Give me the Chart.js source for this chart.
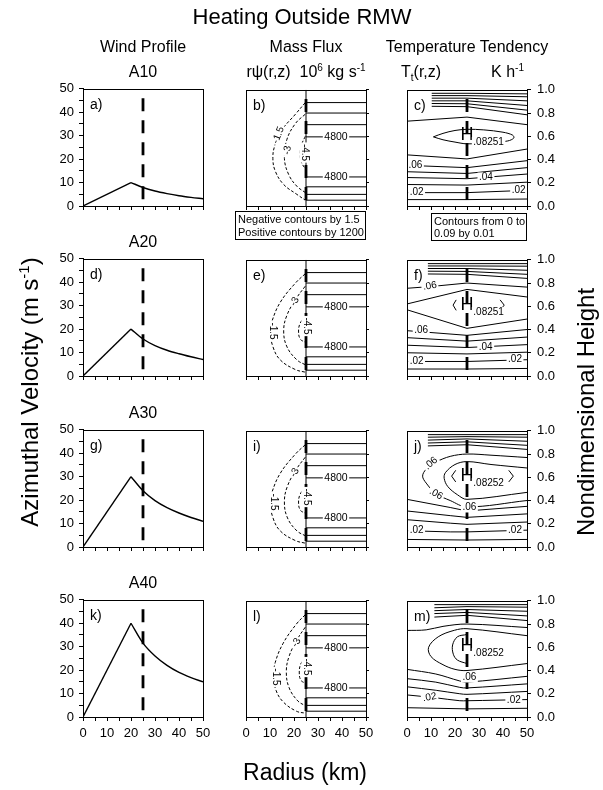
<!DOCTYPE html>
<html><head><meta charset="utf-8">
<script src="https://cdn.jsdelivr.net/npm/chart.js@4.4.0/dist/chart.umd.min.js"></script>
<style>
html,body{margin:0;padding:0;background:#fff;}
body{width:603px;height:790px;position:relative;overflow:hidden;}
canvas{position:absolute;}
svg{position:absolute;left:0;top:0;}
</style></head><body>
<script>
// ---------------- DATA ----------------
const caseNames = ['A10','A20','A30','A40'];
const panelLetters = [['a)','b)','c)'],['d)','e)','f)'],['g)','i)','j)'],['k)','l)','m)']];
const radiusTicks = [0,5,10,15,20,25,30,35,40,45,50];
const radiusLabels = [0,10,20,30,40,50];
const velocityTicks = [0,5,10,15,20,25,30,35,40,45,50];
const velocityLabels = [0,10,20,30,40,50];
const heightTicks = [0,0.2,0.4,0.6,0.8,1.0];
const heightLabels = ['0.0','0.2','0.4','0.6','0.8','1.0'];

// wind profiles (m/s) at radii (km)
const windRadius = [0,20,25,30,35,40,45,50];
const windA10 = [0,10,7.9,6.4,5.3,4.4,3.7,3.1];
const windA20 = [0,20,15.8,13.0,11.0,9.5,8.2,7.0];
const windA30 = [0,30,24.0,19.8,16.8,14.5,12.6,11.0];
const windA40 = [0,40,31.5,26.0,22.0,19.0,16.8,15.0];

// heating location
const heatingRadius = 25;
const heatingTopVelocity = 46;
const heatingTopHeight = 0.92;

// mass flux: positive contour heights (r = 25..50), labels "4800"
const psiPositiveHeights = [0.05,0.10,0.165,0.25,0.595,0.70,0.80,0.89];
const psiPositiveLabelHeights = [0.25,0.595];
const psiPositiveLabel = '4800';
// negative contours [r, z]
const psiNegA10 = [
  [[24.7,0.89],[20.6,0.79],[15,0.655],[12,0.52],[11.2,0.41],[12.2,0.30],[15.7,0.185],[21.2,0.10],[24.7,0.05]],
  [[24.7,0.79],[20.6,0.71],[17,0.57],[16,0.41],[17.8,0.27],[21.2,0.17],[24.7,0.116]],
  [[24.7,0.60],[23,0.52],[22.6,0.45],[23,0.38],[24.7,0.32]]
];
const psiNegA20 = [
  [[24.7,0.88],[20.6,0.80],[14.3,0.635],[10.8,0.47],[10.1,0.387],[11.25,0.25],[14.3,0.138],[20.6,0.055],[24.7,0.033]],
  [[24.7,0.773],[21.25,0.677],[17.1,0.525],[15.7,0.387],[17.1,0.25],[21.25,0.138],[24.7,0.097]],
  [[24.7,0.51],[22.6,0.456],[21.9,0.387],[22.6,0.318],[24.7,0.29]]
];
const psiNegA30 = [
  [[24.7,0.88],[20.6,0.80],[14.3,0.635],[10.8,0.47],[10.1,0.387],[11.25,0.25],[14.3,0.138],[20.6,0.055],[24.7,0.033]],
  [[24.7,0.773],[21.25,0.677],[17.3,0.525],[16,0.387],[17.3,0.25],[21.25,0.138],[24.7,0.097]],
  [[24.7,0.51],[22.6,0.456],[21.9,0.387],[22.6,0.318],[24.7,0.29]]
];
const psiNegA40 = [
  [[24.7,0.88],[21,0.80],[15.5,0.635],[12.2,0.47],[11.5,0.35],[12.5,0.23],[15.5,0.13],[21,0.05],[24.7,0.033]],
  [[24.7,0.773],[21.6,0.677],[18,0.525],[16.8,0.387],[18,0.25],[21.6,0.138],[24.7,0.097]],
  [[24.7,0.51],[22.8,0.456],[22.2,0.387],[22.8,0.318],[24.7,0.29]]
];
const psiNegLabelsA10 = [[13.5,0.61,'-1.5',-68],[17.3,0.48,'-3',-80],[24.4,0.46,'-4.5',90]];
const psiNegLabelsA20 = [[11.2,0.387,'-1.5',90],[20.3,0.64,'-3',-60],[25.2,0.43,'-4.5',90]];
const psiNegLabelsA30 = [[11.6,0.387,'-1.5',90],[20.3,0.64,'-3',-60],[25.2,0.43,'-4.5',90]];
const psiNegLabelsA40 = [[12.5,0.345,'-1.5',90],[21,0.64,'-3',-60],[25.2,0.43,'-4.5',90]];

// temperature tendency contours [r, z]
const tempA10 = [
  [[10.3,0.97],[25,0.97],[50,0.965]],
  [[10.3,0.95],[25,0.95],[50,0.94]],
  [[10.3,0.928],[25,0.928],[50,0.905]],
  [[10.3,0.905],[25,0.905],[50,0.865]],
  [[10.3,0.882],[25,0.88],[50,0.825]],
  [[10.3,0.858],[25,0.855],[50,0.785]],
  [[0,0.73],[25,0.765],[50,0.70]],
  [[11,0.595],[15,0.625],[20,0.65],[25,0.66],[32,0.655],[40,0.635],[44,0.61],[44.5,0.585],[42,0.56],[35,0.545],[25,0.535],[20,0.55],[15,0.57],[11,0.595]],
  [[0,0.44],[25,0.405],[50,0.49]],
  [[0,0.35],[25,0.33],[50,0.39]],
  [[0,0.295],[25,0.28],[50,0.33]],
  [[0,0.245],[25,0.235],[50,0.275]],
  [[0,0.185],[25,0.18],[50,0.205]],
  [[0,0.115],[25,0.115],[50,0.135]],
  [[0,0.055],[25,0.055],[50,0.06]]
];
const tempA20 = [
  [[8.7,0.967],[25,0.967],[50,0.967]],
  [[8.7,0.947],[25,0.947],[50,0.945]],
  [[8.7,0.925],[25,0.925],[50,0.91]],
  [[8.7,0.902],[25,0.90],[50,0.875]],
  [[8.7,0.878],[25,0.875],[50,0.84]],
  [[0,0.755],[10,0.77],[25,0.80],[50,0.765]],
  [[0,0.62],[25,0.745],[50,0.68]],
  [[0,0.57],[25,0.41],[50,0.49]],
  [[20.5,0.655],[19.2,0.61],[20.5,0.565]],
  [[38.8,0.655],[40.5,0.61],[38.8,0.565]],
  [[0,0.39],[25,0.35],[50,0.40]],
  [[0,0.33],[25,0.30],[50,0.335]],
  [[0,0.265],[25,0.245],[50,0.27]],
  [[0,0.20],[25,0.19],[50,0.205]],
  [[0,0.125],[25,0.125],[50,0.14]],
  [[0,0.06],[25,0.06],[50,0.065]]
];
const tempA30 = [
  [[8.7,0.967],[25,0.967],[50,0.967]],
  [[8.7,0.945],[25,0.95],[50,0.945]],
  [[8.7,0.92],[25,0.93],[50,0.91]],
  [[8.7,0.895],[25,0.905],[50,0.875]],
  [[8.7,0.87],[25,0.88],[50,0.84]],
  [[50,0.77],[35,0.79],[25,0.80],[18,0.78],[12,0.73],[8,0.67],[6.5,0.61],[8,0.55],[12,0.46],[18,0.40],[25,0.345],[50,0.40]],
  [[50,0.68],[35,0.71],[25,0.735],[20,0.71],[16,0.64],[15.5,0.59],[17,0.52],[21,0.45],[25,0.41],[50,0.47]],
  [[20.3,0.66],[18.6,0.61],[20.3,0.56]],
  [[42.4,0.66],[44.3,0.61],[42.4,0.56]],
  [[0,0.41],[18,0.34],[25,0.31],[50,0.35]],
  [[0,0.31],[18,0.27],[25,0.255],[50,0.285]],
  [[0,0.235],[18,0.205],[25,0.195],[50,0.215]],
  [[0,0.14],[18,0.13],[25,0.13],[50,0.145]],
  [[0,0.065],[25,0.06],[50,0.065]]
];
const tempA40 = [
  [[11.4,0.967],[25,0.967],[50,0.967]],
  [[11.4,0.94],[25,0.95],[50,0.945]],
  [[11.4,0.915],[25,0.925],[50,0.91]],
  [[11.4,0.89],[25,0.90],[50,0.87]],
  [[11.4,0.86],[25,0.875],[50,0.83]],
  [[0,0.745],[8,0.75],[15,0.78],[25,0.80],[50,0.77]],
  [[50,0.70],[25,0.76],[19.7,0.746],[13,0.69],[9,0.60],[10,0.52],[15,0.45],[20,0.41],[25,0.40],[50,0.46]],
  [[25,0.71],[21,0.69],[19,0.62],[19.3,0.54],[21,0.49],[25,0.46]],
  [[0,0.41],[12,0.37],[22,0.31],[25,0.30],[50,0.35]],
  [[0,0.33],[12,0.30],[22,0.255],[25,0.25],[50,0.285]],
  [[0,0.26],[12,0.23],[22,0.20],[25,0.195],[50,0.22]],
  [[0,0.19],[12,0.165],[22,0.14],[25,0.14],[50,0.15]],
  [[0,0.08],[25,0.07],[50,0.075]]
];
const tempLabelsA10 = [[3.5,0.35,'.06',0],[32.9,0.245,'.04',0],[4,0.115,'.02',0],[46.5,0.135,'.02',0]];
const tempLabelsA20 = [[9.5,0.775,'.06',-10],[5.9,0.39,'.06',0],[32.8,0.25,'.04',0],[4,0.125,'.02',0],[45,0.14,'.02',0]];
const tempLabelsA30 = [[10,0.72,'.06',-40],[12.1,0.456,'.06',30],[26,0.34,'.06',0],[4,0.14,'.02',0],[45,0.145,'.02',0]];
const tempLabelsA40 = [[26,0.34,'.06',0],[9.4,0.17,'.02',-10],[44.5,0.145,'.02',0]];
const tempMaxLabels = ['.08251','.08251','.08252','.08252'];
const tempMaxPos = [25,0.6];

// ---------------- LAYOUT ----------------
const FONT = '"Liberation Sans", Arial, Helvetica, sans-serif';
const colLeft = [83,246,407];
const rowTop = [86,256,427,597];
const PW = 120, PH = 120, SIDE = 45, TOPPAD = 10, BOT = 30;

const pts = arr => arr.map(p => ({x:p[0], y:p[1]}));
function line(points, extra) {
  return Object.assign({data: pts(points), showLine:true, borderColor:'#000', borderWidth:1,
    pointRadius:0, fill:false, tension:0}, extra||{});
}
function heatingLine(top){
  return line([[heatingRadius,top],[heatingRadius,0]], {borderWidth:2.8, borderDash:[13,9]});
}

const decor = {
  id:'decor',
  afterDatasetsDraw(chart, args, o){
    const ctx = chart.ctx, xs = chart.scales.x, ys = chart.scales.y, a = chart.chartArea;
    ctx.save();
    (o.labels||[]).forEach(l=>{
      const px = xs.getPixelForValue(l[0]), py = ys.getPixelForValue(l[1]);
      const size = l[4]||10;
      ctx.save();
      ctx.translate(px,py);
      if (l[3]) ctx.rotate(l[3]*Math.PI/180);
      ctx.font = size+'px '+FONT;
      ctx.textAlign='center'; ctx.textBaseline='middle';
      if (!l[5]) {
        const w = ctx.measureText(l[2]).width;
        ctx.fillStyle='#fff'; ctx.fillRect(-w/2-1.5,-size*0.5,w+3,size);
      }
      ctx.fillStyle='#000'; ctx.fillText(l[2],0,0);
      ctx.restore();
    });
    ctx.strokeStyle='#000'; ctx.lineWidth=1;
    ctx.strokeRect(Math.round(a.left)+0.5, Math.round(a.top)+0.5, Math.round(a.right-a.left), Math.round(a.bottom-a.top));
    ctx.fillStyle='#000'; ctx.font='14px '+FONT; ctx.textAlign='left'; ctx.textBaseline='top';
    ctx.fillText(o.letter, a.left+7, a.top+9);
    ctx.restore();
  }
};

function makePanel(row, col, datasets, labels){
  const cv = document.createElement('canvas');
  const w = PW + 2*SIDE, h = PH + TOPPAD + BOT;
  cv.width = w; cv.height = h;
  cv.style.left = (colLeft[col]-SIDE)+'px';
  cv.style.top = (rowTop[row]-TOPPAD)+'px';
  cv.style.width = w+'px'; cv.style.height = h+'px';
  document.body.appendChild(cv);
  const isWind = col===0;
  const tickFont = {family:FONT, size:13};
  const yTicks = isWind ? velocityTicks : heightTicks;
  const yScale = {
    type:'linear', min:0, max: isWind?50:1, position: col===0?'left':'right',
    afterBuildTicks: s => { s.ticks = yTicks.map(v=>({value:v})); },
    ticks:{ color:'#000', font:tickFont, padding: isWind?5:6, autoSkip:false,
      callback: v => {
        if (col===0) return velocityLabels.includes(v) ? String(v) : '';
        if (col===2) { const i = heightTicks.findIndex(t=>Math.abs(t-v)<1e-6); return i>=0 ? heightLabels[i] : ''; }
        return '';
      }},
    grid:{ drawOnChartArea:false, color:'#000', tickLength: col===1?3:4, lineWidth:1 },
    border:{ display:true, color:'#000', width:1 },
    afterFit: s => { s.width = SIDE; }
  };
  const xScale = {
    type:'linear', min:0, max:50, position:'bottom',
    afterBuildTicks: s => { s.ticks = radiusTicks.map(v=>({value:v})); },
    ticks:{ color:'#000', font:tickFont, padding:5, autoSkip:false, maxRotation:0,
      callback: v => (row===3 && radiusLabels.includes(v)) ? String(v) : '' },
    grid:{ drawOnChartArea:false, color:'#000', tickLength:4, lineWidth:1 },
    border:{ display:true, color:'#000', width:1 },
    afterFit: s => { s.height = BOT; }
  };
  new Chart(cv.getContext('2d'), {
    type:'scatter',
    data:{ datasets },
    options:{
      responsive:false, animation:false, devicePixelRatio:1,
      layout:{ padding:{ left: col===0?0:SIDE, right: col===0?SIDE:0, top:TOPPAD, bottom:0 } },
      scales:{ x:xScale, y:yScale },
      plugins:{ legend:{display:false}, tooltip:{enabled:false},
        decor:{ labels, letter: panelLetters[row][col] } },
      events:[]
    },
    plugins:[decor]
  });
}

const winds = [windA10, windA20, windA30, windA40];
const psiNeg = [psiNegA10, psiNegA20, psiNegA30, psiNegA40];
const psiNegLabels = [psiNegLabelsA10, psiNegLabelsA20, psiNegLabelsA30, psiNegLabelsA40];
const temps = [tempA10, tempA20, tempA30, tempA40];
const tempLabels = [tempLabelsA10, tempLabelsA20, tempLabelsA30, tempLabelsA40];

for (let r=0;r<4;r++){
  // wind profile
  const wp = windRadius.map((x,i)=>[x, winds[r][i]]);
  makePanel(r,0,[
    line(wp.slice(0,2), {borderWidth:1.4}),
    line(wp.slice(1), {borderWidth:1.4, cubicInterpolationMode:'monotone'}),
    heatingLine(heatingTopVelocity)
  ],[]);
  // mass flux
  const ds = [];
  psiPositiveHeights.forEach(z => ds.push(line([[heatingRadius,z],[50,z]])));
  psiNeg[r].forEach(c => ds.push(line(c, {borderDash:[3,2], tension:0.4})));
  ds.push(line([[heatingRadius,0],[heatingRadius,1]]));
  ds.push(heatingLine(heatingTopHeight));
  const lb = psiNegLabels[r].map(l=>[l[0],l[1],l[2],l[3],10]);
  psiPositiveLabelHeights.forEach(z => lb.push([37.5,z,psiPositiveLabel,0,10.5]));
  makePanel(r,1,ds,lb);
  // temperature tendency
  const dt = temps[r].map(c => line(c, {tension: c.length>4?0.35:0}));
  dt.push(heatingLine(heatingTopHeight));
  const tl = tempLabels[r].map(l=>[l[0],l[1],l[2],l[3],10]);
  tl.push([tempMaxPos[0], tempMaxPos[1]+0.01, 'H', 0, 18, true]);
  tl.push([34, 0.55, tempMaxLabels[r], 0, 10]);
  makePanel(r,2,dt,tl);
}

// ---------------- TEXT ----------------
const svgNS = 'http://www.w3.org/2000/svg';
const headerRows = rowTop.map(t=>t-9);
let svg = `<svg xmlns="${svgNS}" width="603" height="790" font-family='${FONT}' fill="#000">
<text x="302" y="24" font-size="22" text-anchor="middle">Heating Outside RMW</text>
<text x="143" y="52" font-size="16" text-anchor="middle">Wind Profile</text>
<text x="306" y="52" font-size="16" text-anchor="middle">Mass Flux</text>
<text x="467" y="52" font-size="16" text-anchor="middle">Temperature Tendency</text>
<text x="306" y="77" font-size="16" text-anchor="middle">rψ(r,z)&#160;&#160;10<tspan dy="-6" font-size="10">6</tspan><tspan dy="6"> kg s</tspan><tspan dy="-6" font-size="10">-1</tspan></text>
<text x="401" y="77" font-size="16">T<tspan dy="4" font-size="10">t</tspan><tspan dy="-4">(r,z)</tspan></text>
<text x="524" y="77" font-size="16" text-anchor="end">K h<tspan dy="-6" font-size="10">-1</tspan></text>
<text transform="translate(38,392) rotate(-90)" font-size="24" text-anchor="middle">Azimuthal Velocity (m s<tspan dy="-9" font-size="15">-1</tspan><tspan dy="9">)</tspan></text>
<text transform="translate(594,412) rotate(-90)" font-size="24" text-anchor="middle">Nondimensional Height</text>
<text x="305" y="780" font-size="23" text-anchor="middle">Radius (km)</text>
<rect x="235.5" y="211.5" width="130" height="28" fill="#fff" stroke="#000" stroke-width="1"/>
<text x="238" y="223" font-size="11">Negative contours by 1.5</text>
<text x="238" y="236" font-size="11">Positive contours by 1200</text>
<rect x="431.5" y="213.5" width="95" height="27" fill="#fff" stroke="#000" stroke-width="1"/>
<text x="434" y="225" font-size="11">Contours from 0 to</text>
<text x="434" y="237" font-size="11">0.09 by 0.01</text>
`;
caseNames.forEach((n,i)=>{ svg += `<text x="143" y="${headerRows[i]}" font-size="16" text-anchor="middle">${n}</text>`; });
svg += '</svg>';
document.body.insertAdjacentHTML('beforeend', svg);
</script>
</body></html>
